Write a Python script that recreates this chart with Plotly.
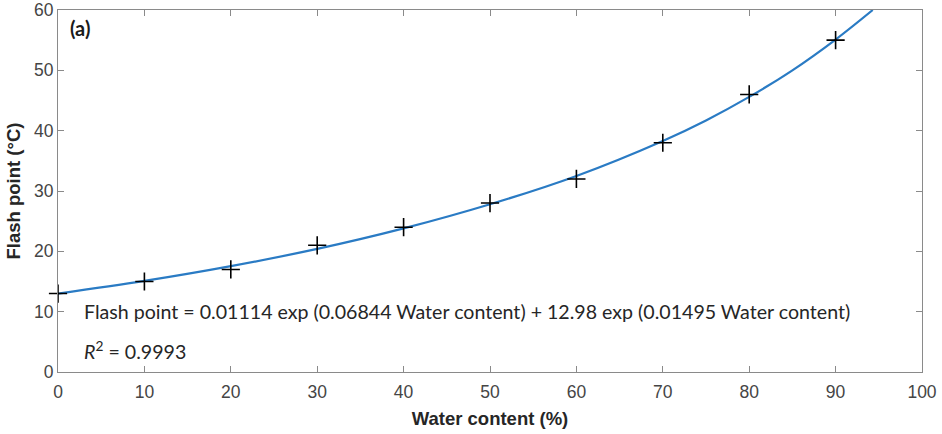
import plotly.graph_objects as go

water = [0, 10, 20, 30, 40, 50, 60, 70, 80, 90]
flash = [13.0, 15.0, 17.0, 21.0, 24.0, 28.0, 32.0, 38.0, 46.0, 55.0]

# Fitted curve points
fit_x = [0, 10, 20, 30, 40, 50, 60, 70, 75, 80, 85, 90, 94.3]
fit_y = [13.0, 15.1, 17.55, 20.4, 23.8, 27.8, 32.5, 38.3, 41.7, 45.6, 50.0, 55.1, 60.0]

x_ticks = [0, 10, 20, 30, 40, 50, 60, 70, 80, 90, 100]
y_ticks = [0, 10, 20, 30, 40, 50, 60]

fig = go.Figure()
fig.add_trace(go.Scatter(x=fit_x, y=fit_y, mode="lines",
                         line=dict(color="#2a7bc4", width=2.2, shape="spline", smoothing=1.0),
                         showlegend=False, hoverinfo="skip"))
fig.add_trace(go.Scatter(x=water, y=flash, mode="markers",
                         marker=dict(symbol="cross-thin", size=13, line=dict(color="black", width=1.6)),
                         showlegend=False, cliponaxis=False))

axis_common = dict(showgrid=False, zeroline=False, showline=True, linecolor="#8a8a8a", linewidth=1.2,
                   mirror="ticks", ticks="inside", ticklen=6, tickcolor="#8a8a8a", tickwidth=1,
                   automargin=False,
                   tickfont=dict(family="Liberation Sans, Arial", size=17.5, color="#454545"))

fig.update_xaxes(range=[0, 100], tickvals=x_ticks, ticktext=[str(v) for v in x_ticks],
                 ticklabelstandoff=4,
                 title=dict(text="<b>Water content (%)</b>", font=dict(family="Liberation Sans, Arial", size=18.5, color="#262626"), standoff=10),
                 **axis_common)
fig.update_yaxes(range=[0, 60], tickvals=y_ticks, ticktext=[str(v) for v in y_ticks],
                 title=dict(text="<b>Flash point (°C)</b>", font=dict(family="Liberation Sans, Arial", size=18.5, color="#262626"), standoff=8),
                 **axis_common)

fig.add_annotation(x=0.011, y=0.99, xref="paper", yref="paper", text="<b>(a)</b>", showarrow=False,
                   xanchor="left", yanchor="top", font=dict(family="Lato, Open Sans", size=20, color="#1a1a1a"))
fig.add_annotation(x=2.8, y=10.0, xref="x", yref="y",
                   text="Flash point = 0.01114 exp (0.06844 Water content) + 12.98 exp (0.01495 Water content)",
                   showarrow=False, xanchor="left", yanchor="middle",
                   font=dict(family="Lato, Open Sans", size=19.6, color="#262626"))
fig.add_annotation(x=2.8, y=3.7, xref="x", yref="y",
                   text="<i>R</i><sup>2</sup> = 0.9993",
                   showarrow=False, xanchor="left", yanchor="middle",
                   font=dict(family="Lato, Open Sans", size=19.6, color="#262626"))

fig.update_layout(width=942, height=434, margin=dict(l=58, r=20, t=10, b=62),
                  paper_bgcolor="white", plot_bgcolor="white")

fig.write_html("out.html")
